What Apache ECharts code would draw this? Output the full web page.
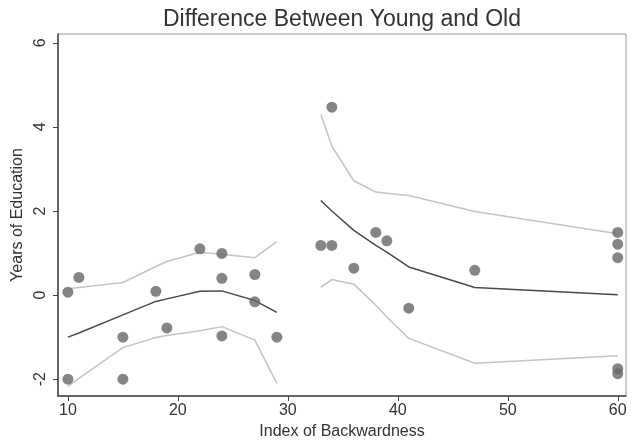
<!DOCTYPE html>
<html>
<head>
<meta charset="utf-8">
<script src="https://cdn.jsdelivr.net/npm/echarts@6/dist/echarts.min.js"></script>
<style>html,body{margin:0;padding:0;background:#fff}#c{width:633px;height:442px}</style>
</head>
<body>
<div id="c"></div>
<script>
const scatterX = [10,10,11,15,15,18,19,22,24,24,24,27,27,29,33,34,34,36,38,39,41,47,60,60,60,60,60];
const scatterY = [0.07,-2.0,0.42,-1.0,-2.0,0.09,-0.78,1.10,0.99,0.40,-0.97,0.49,-0.16,-1.0,1.18,1.18,4.47,0.64,1.49,1.29,-0.31,0.59,1.49,1.21,0.89,-1.75,-1.87];

const fitX1 = [10,11,15,18,19,22,24,27,29];
const mid1 = [-1.0,-0.9,-0.47,-0.15,-0.09,0.09,0.10,-0.13,-0.41];
const upper1 = [0.15,0.18,0.30,0.68,0.80,1.02,0.97,0.89,1.27];
const lower1 = [-2.17,-1.98,-1.25,-1.01,-0.96,-0.85,-0.75,-1.07,-2.10];

const fitX2 = [33,34,36,38,39,41,47,60];
const mid2 = [2.25,2.0,1.54,1.18,1.02,0.67,0.18,0.01];
const upper2 = [4.30,3.54,2.72,2.45,2.42,2.37,1.99,1.46];
const lower2 = [0.19,0.37,0.26,-0.24,-0.52,-1.03,-1.62,-1.44];

const xTicks = [10,20,30,40,50,60];
const yTicks = [-2,0,2,4,6];

const zip = (xs, ys) => xs.map((x, i) => [x, ys[i]]);
const FONT = 'Liberation Sans, Arial, sans-serif';

const lineSeries = (xs, ys, color, width) => ({
  type: 'line', data: zip(xs, ys), showSymbol: false, symbol: 'none',
  lineStyle: { color: color, width: width }, z: 2, animation: false
});

const chart = echarts.init(document.getElementById('c'));
chart.setOption({
  backgroundColor: '#ffffff',
  animation: false,
  title: {
    text: 'Difference Between Young and Old',
    left: 337, top: 3, textAlign: 'center',
    textStyle: { fontFamily: FONT, fontSize: 23, fontWeight: 'normal', color: '#333' }
  },
  grid: { left: 58, top: 34, right: 7, bottom: 46, show: true, borderColor: '#999', borderWidth: 1,
          containLabel: false, outerBoundsMode: 'none' },
  xAxis: {
    type: 'value', min: 9.1, max: 60.75,
    name: 'Index of Backwardness', nameLocation: 'middle', nameGap: 28,
    nameTextStyle: { fontFamily: FONT, fontSize: 16, color: '#333' },
    axisLine: { show: true, onZero: false, lineStyle: { color: '#444', width: 1.5 } },
    axisTick: { show: true, length: 5, customValues: xTicks, lineStyle: { color: '#444' } },
    axisLabel: { customValues: xTicks, fontFamily: FONT, fontSize: 16, color: '#333', margin: 7 },
    splitLine: { show: false }
  },
  yAxis: {
    type: 'value', min: -2.4, max: 6.21,
    name: 'Years of Education', nameLocation: 'middle', nameGap: 24,
    nameTextStyle: { fontFamily: FONT, fontSize: 16, color: '#333' },
    axisLine: { show: true, onZero: false, lineStyle: { color: '#444', width: 1.5 } },
    axisTick: { show: true, length: 5, customValues: yTicks, lineStyle: { color: '#444' } },
    axisLabel: { customValues: yTicks, rotate: 90, fontFamily: FONT, fontSize: 16, color: '#333', margin: 9 },
    splitLine: { show: false }
  },
  series: [
    lineSeries(fitX1, upper1, '#c4c4c4', 1.5),
    lineSeries(fitX1, lower1, '#c4c4c4', 1.5),
    lineSeries(fitX2, upper2, '#c4c4c4', 1.5),
    lineSeries(fitX2, lower2, '#c4c4c4', 1.5),
    lineSeries(fitX1, mid1, '#4a4a4a', 1.5),
    lineSeries(fitX2, mid2, '#4a4a4a', 1.5),
    {
      type: 'scatter', data: zip(scatterX, scatterY), symbol: 'circle', symbolSize: 11,
      itemStyle: { color: '#666666' }, z: 3, animation: false
    }
  ]
});
</script>
</body>
</html>
